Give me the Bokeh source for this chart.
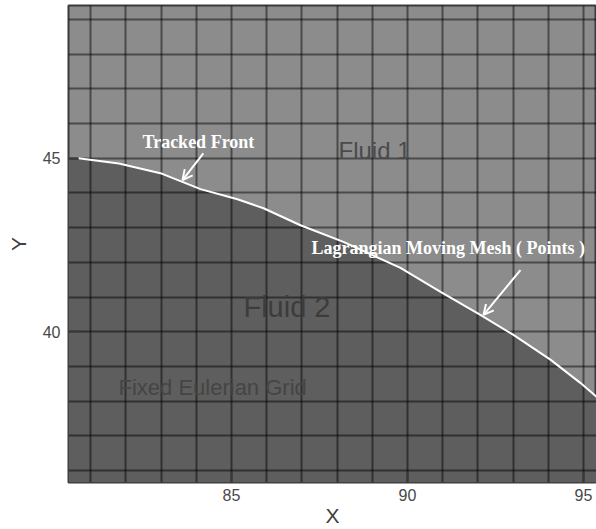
from bokeh.plotting import figure
from bokeh.models import Range1d, SingleIntervalTicker, FixedTicker, Label, Arrow, OpenHead
from bokeh.embed import file_html
from bokeh.resources import INLINE

# ---- data ----
front_x = [80.65, 81.80, 82.98, 84.12, 85.17, 85.91, 86.96, 88.18, 89.80, 90.94, 92.07, 93.01, 94.06, 94.91, 95.37]
front_y = [45.00, 44.85, 44.57, 44.11, 43.82, 43.56, 43.07, 42.59, 41.84, 41.15, 40.49, 39.91, 39.20, 38.53, 38.13]
x_ticks = [85, 90, 95]
y_ticks = [40, 45]

X0, X1 = 80.37, 95.37
Y0, Y1 = 35.66, 49.40

FLUID1 = "#8c8c8c"
FLUID2 = "#5e5e5e"

p = figure(width=596, height=529, output_backend="svg", toolbar_location=None,
           x_range=Range1d(X0, X1), y_range=Range1d(Y0, Y1),
           min_border_left=68, min_border_right=0, min_border_top=5, min_border_bottom=46)
p.background_fill_color = FLUID1
p.border_fill_color = "white"
p.outline_line_color = "#3a3a3a"
p.outline_line_width = 2

# Fluid 2 region below the front
fill_x = [X0] + front_x
fill_y = [front_y[0]] + front_y
p.varea(x=fill_x, y1=[Y0] * len(fill_x), y2=fill_y, fill_color=FLUID2, level="image")

# grid
for g in (p.xgrid, p.ygrid):
    g.ticker = SingleIntervalTicker(interval=1)
    g.grid_line_color = "black"
    g.grid_line_alpha = 0.47
    g.grid_line_width = 2
    g.level = "underlay"

# front line
p.line(front_x, front_y, line_color="white", line_width=2)

# axes
p.xaxis.ticker = FixedTicker(ticks=x_ticks)
p.yaxis.ticker = FixedTicker(ticks=y_ticks)
for ax in (p.xaxis, p.yaxis):
    ax.axis_line_color = None
    ax.major_tick_in = 10
    ax.major_tick_out = 0
    ax.major_tick_line_color = "#3a3a3a"
    ax.major_tick_line_width = 2
    ax.minor_tick_line_color = None
    ax.major_label_text_font = "Liberation Sans"
    ax.major_label_text_font_size = "16px"
    ax.major_label_text_color = "#484848"
    ax.axis_label_text_font = "Liberation Sans"
    ax.axis_label_text_font_size = "21px"
    ax.axis_label_text_font_style = "normal"
    ax.axis_label_text_color = "#404040"
p.xaxis.axis_label = "X"
p.yaxis.axis_label = "Y"
p.xaxis.major_label_standoff = 6
p.xaxis.axis_label_standoff = 0
p.yaxis.major_label_standoff = 8
p.yaxis.axis_label_standoff = 10

serif = dict(text_font="Liberation Serif", text_font_style="bold", text_color="white",
             text_font_size="18px", text_align="center", text_baseline="middle")
p.add_layout(Label(x=84.06, y=45.46, text="Tracked Front", **serif))
p.add_layout(Label(x=91.16, y=42.41, text="Lagrangian Moving Mesh ( Points )", **serif))

sans = dict(text_font="Liberation Sans", text_align="left", text_baseline="middle")
p.add_layout(Label(x=88.04, y=45.23, text="Fluid 1", text_font_size="24px", text_color="#4a4a4a", **sans))
p.add_layout(Label(x=85.34, y=40.72, text="Fluid 2", text_font_size="29px", text_color="#3c3c3c", **sans))
p.add_layout(Label(x=81.79, y=38.39, text="Fixed Eulerian Grid", text_font_size="22px", text_color="#454545", **sans))

head = dict(size=10, line_color="white", line_width=2)
p.add_layout(Arrow(x_start=84.20, y_start=45.14, x_end=83.61, y_end=44.37,
                   line_color="white", line_width=2, end=OpenHead(**head)))
p.add_layout(Arrow(x_start=93.21, y_start=41.78, x_end=92.16, y_end=40.49,
                   line_color="white", line_width=2, end=OpenHead(**head)))

open("out.html", "w").write(file_html(p, INLINE))
